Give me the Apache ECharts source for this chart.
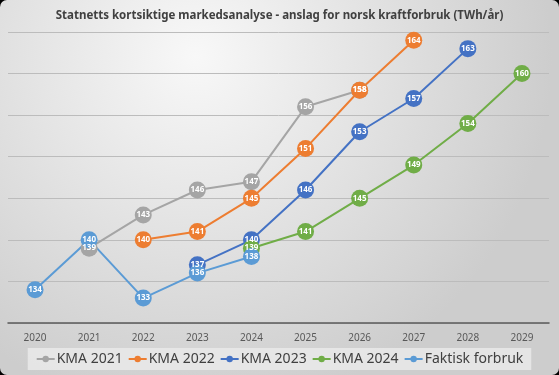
<!DOCTYPE html>
<html>
<head>
<meta charset="utf-8">
<script src="https://cdn.jsdelivr.net/npm/echarts@6/dist/echarts.min.js"></script>
<style>
  html, body { margin: 0; padding: 0; background: #000; }
  #chart { width: 559px; height: 375px; border-radius: 7px; overflow: hidden; }
</style>
</head>
<body>
<div id="chart"></div>
<script>
var years = ['2020', '2021', '2022', '2023', '2024', '2025', '2026', '2027', '2028', '2029'];

// anslag fra hver KMA (null = ingen verdi)
var kma2021 = [null, 139, 143, 146, 147, 156, 158, null, null, null];
var kma2022 = [null, null, 140, 141, 145, 151, 158, 164, null, null];
var kma2023 = [null, null, null, 137, 140, 146, 153, 157, 163, null];
var kma2024 = [null, null, null, null, 139, 141, 145, 149, 154, 160];
var faktisk = [134, 140, 133, 136, 138, null, null, null, null, null];

var seriesNames = ['KMA 2021', 'KMA 2022', 'KMA 2023', 'KMA 2024', 'Faktisk forbruk'];
var seriesColors = ['#a5a5a5', '#ed7d31', '#4472c4', '#70ad47', '#5b9bd5'];
var seriesData = [kma2021, kma2022, kma2023, kma2024, faktisk];

var myChart = echarts.init(document.getElementById('chart'));

function makeSeries(i) {
    return {
        name: seriesNames[i],
        type: 'line',
        data: seriesData[i],
        connectNulls: false,
        symbol: 'circle',
        symbolSize: 17,
        color: seriesColors[i],
        lineStyle: { width: 2 },
        itemStyle: { color: seriesColors[i] },
        label: {
            show: true,
            position: 'inside',
            color: '#fff',
            fontSize: 8,
            fontWeight: 'bold',
            fontFamily: 'Noto Sans'
        },
        emphasis: { disabled: true },
        animation: false
    };
}

var series = [];
for (var i = 0; i < seriesNames.length; i++) {
    series.push(makeSeries(i));
}

var option = {
    backgroundColor: {
        type: 'radial', x: 0.35, y: 0.15, r: 0.95,
        colorStops: [
            { offset: 0, color: '#f8f8f8' },
            { offset: 1, color: '#cdcdcd' }
        ]
    },
    textStyle: { fontFamily: 'Noto Sans' },
    title: {
        text: 'Statnetts kortsiktige markedsanalyse - anslag for norsk kraftforbruk (TWh/år)',
        left: 'center',
        top: 5,
        textStyle: { fontSize: 11.5, fontWeight: 'bold', color: '#404040', fontFamily: 'Noto Sans' }
    },
    legend: {
        bottom: 5,
        left: 'center',
        data: seriesNames,
        itemWidth: 18,
        itemHeight: 8,
        itemGap: 5,
        padding: [4, 8],
        backgroundColor: 'rgba(232,232,232,0.9)',
        textStyle: { fontSize: 14, color: '#404040', padding: [0, 0, 0, -3] }
    },
    grid: { left: 8, right: 10, top: 32, bottom: 52 },
    xAxis: {
        type: 'category',
        data: years,
        boundaryGap: true,
        axisLine: { lineStyle: { color: '#595959', width: 1.5 } },
        axisTick: { show: false },
        axisLabel: { fontSize: 10, color: '#595959', margin: 10 }
    },
    yAxis: {
        type: 'value',
        min: 130,
        max: 165,
        interval: 5,
        axisLabel: { show: false },
        axisLine: { show: false },
        axisTick: { show: false },
        splitLine: { lineStyle: { color: '#bcbcbc', width: 1 } }
    },
    series: series
};

myChart.setOption(option);
</script>
</body>
</html>
